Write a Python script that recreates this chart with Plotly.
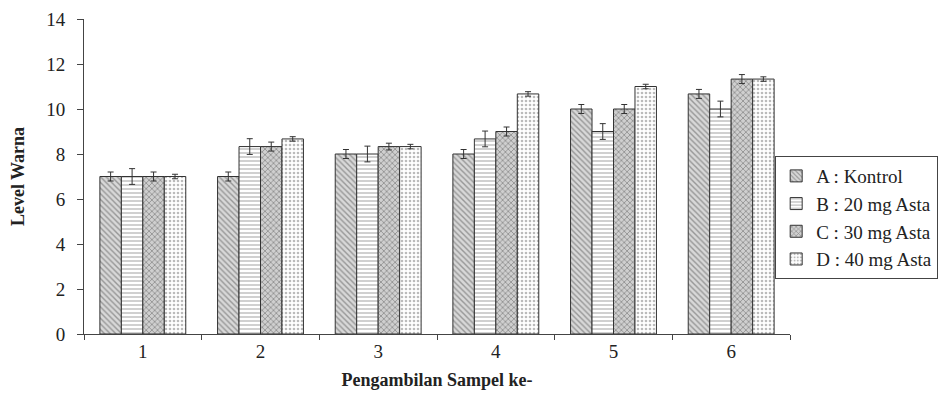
import plotly.graph_objects as go

categories = ["1", "2", "3", "4", "5", "6"]
series_names = ["A : Kontrol", "B : 20 mg Asta", "C : 30 mg Asta", "D : 40 mg Asta"]
vals_A = [7.0, 7.0, 8.0, 8.0, 10.0, 10.67]
vals_B = [7.0, 8.33, 8.0, 8.67, 9.0, 10.0]
vals_C = [7.0, 8.33, 8.33, 9.0, 10.0, 11.33]
vals_D = [7.0, 8.67, 8.33, 10.67, 11.0, 11.33]
err_A = [0.2, 0.2, 0.2, 0.2, 0.2, 0.2]
err_B = [0.35, 0.35, 0.35, 0.35, 0.35, 0.35]
err_C = [0.2, 0.2, 0.15, 0.2, 0.2, 0.2]
err_D = [0.1, 0.1, 0.1, 0.1, 0.1, 0.1]
y_ticks = [0, 2, 4, 6, 8, 10, 12, 14]

values = [vals_A, vals_B, vals_C, vals_D]
errors = [err_A, err_B, err_C, err_D]
shapes = ["\\", "-", "x", "."]
fgcolors = ["#555555", "#777777", "#444444", "#777777"]
bgcolors = ["#d8d8d8", "#ffffff", "#cfcfcf", "#ffffff"]

fig = go.Figure()
for name, v, e, sh, fg, bg in zip(series_names, values, errors, shapes, fgcolors, bgcolors):
    fig.add_trace(go.Bar(
        x=categories, y=v, name=name,
        marker=dict(color=bg, line=dict(color="#333333", width=1),
                    pattern=dict(shape=sh, fgcolor=fg, bgcolor=bg, size=4, solidity=0.35)),
        error_y=dict(type="data", array=e, visible=True, color="#333333", thickness=1, width=3),
    ))

font_family = "Liberation Serif, Times New Roman, serif"
fig.update_layout(
    width=941, height=386,
    barmode="group", bargap=0.27, bargroupgap=0,
    plot_bgcolor="white", paper_bgcolor="white",
    margin=dict(l=76, r=159, t=11, b=60, autoexpand=False),
    font=dict(family=font_family, size=19, color="#222222"),
    legend=dict(x=0.979, xanchor="left", y=0.565, yanchor="top",
                bordercolor="#444444", borderwidth=1, bgcolor="white",
                font=dict(family=font_family, size=19), tracegroupgap=0,
                itemwidth=30),
    xaxis=dict(
        title=dict(text="<b>Pengambilan Sampel ke-</b>", font=dict(family=font_family, size=18), standoff=12),
        showline=True, linecolor="#444444", ticks="outside", tickson="boundaries",
        ticklen=5, tickcolor="#444444", showgrid=False, automargin=False,
    ),
    yaxis=dict(
        title=dict(text="<b>Level Warna</b>", font=dict(family=font_family, size=18), standoff=18),
        range=[0, 14], tickvals=y_ticks, showline=True, linecolor="#444444",
        ticks="outside", ticklen=6, tickcolor="#444444", showgrid=False, zeroline=False,
        ticklabelstandoff=8, ticklabeloverflow="allow", automargin=False,
    ),
)
fig.write_html("out.html")
